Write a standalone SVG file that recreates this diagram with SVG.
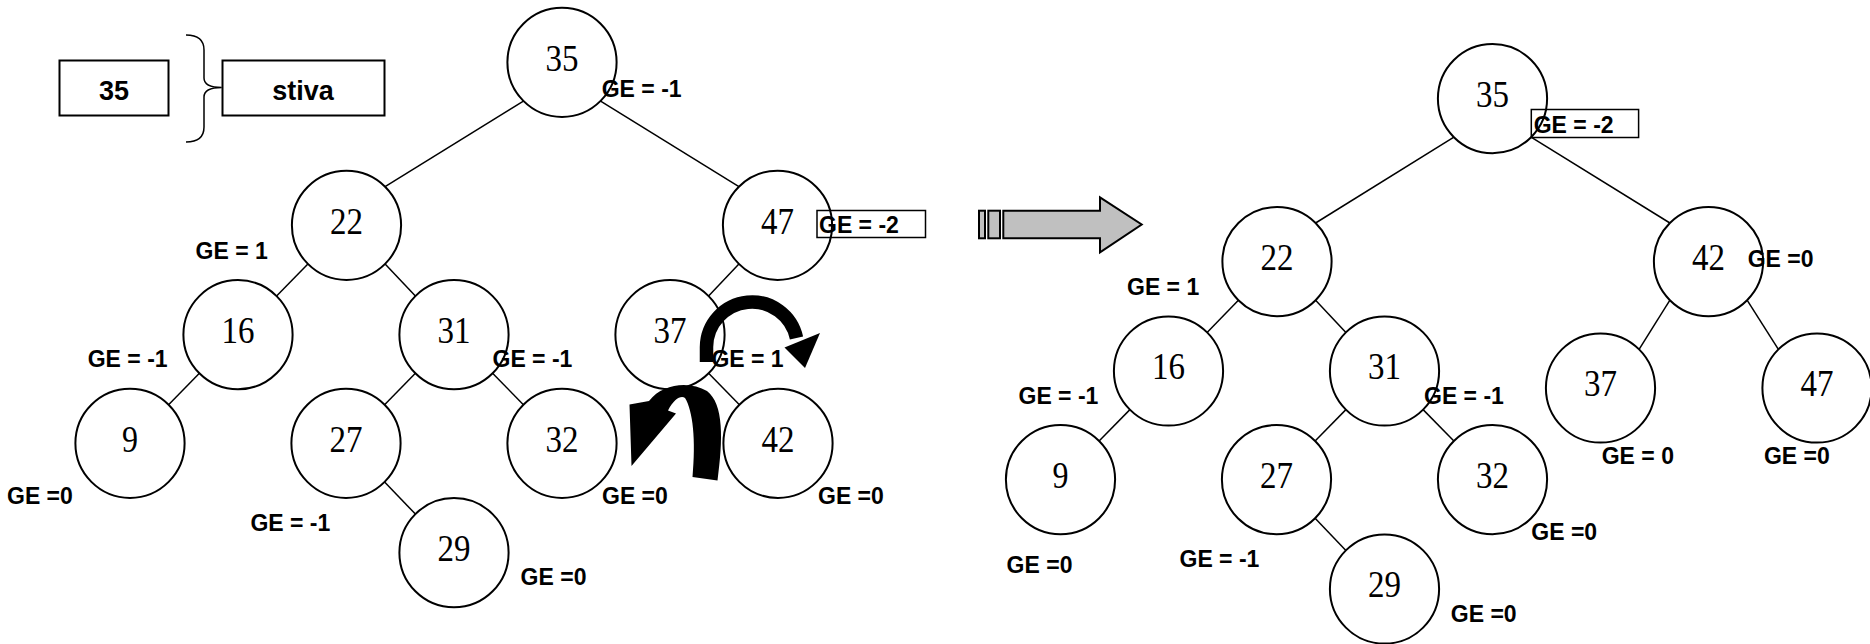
<svg xmlns="http://www.w3.org/2000/svg" width="1870" height="644" viewBox="0 0 1870 644">
<style>
.bg{fill:#ffffff}
.node{fill:#ffffff;stroke:#000;stroke-width:2}
.edge{stroke:#000;stroke-width:1.5;fill:none}
.num{font-family:"Liberation Serif","Times New Roman",serif;font-size:37px;text-anchor:middle;fill:#000}
.ge{font-family:"Liberation Sans",Arial,sans-serif;font-weight:bold;font-size:23px;fill:#000}
.box{fill:none;stroke:#000;stroke-width:1.5}
.sbox{fill:#fff;stroke:#000;stroke-width:2}
.lbl{font-family:"Liberation Sans",Arial,sans-serif;font-weight:bold;font-size:27px;text-anchor:middle;fill:#000}
.big{fill:#c0c0c0;stroke:#000;stroke-width:2}
.rot{fill:#000;stroke:none}
</style>
<rect class="bg" x="0" y="0" width="1870" height="644"/>

<g id="stack">
<rect class="sbox" x="59.5" y="60.5" width="109" height="55"/>
<text class="lbl" x="114" y="100">35</text>
<path d="M186,35 Q204,35 204,50 L204,78 Q204,87.5 221.7,87.5 Q204,87.5 204,97 L204,127 Q204,142 186,142" fill="none" stroke="#000" stroke-width="1.5"/>
<rect class="sbox" x="222.5" y="60.5" width="162" height="55"/>
<text class="lbl" x="303" y="100">stiva</text>
</g>

<g id="connectors">
<line class="edge" x1="523.4" y1="101.2" x2="385.1" y2="186.7"/>
<line class="edge" x1="600.6" y1="101.2" x2="738.9" y2="186.7"/>
<line class="edge" x1="307.9" y1="263.9" x2="276.6" y2="296.1"/>
<line class="edge" x1="385.1" y1="263.9" x2="415.4" y2="296.1"/>
<line class="edge" x1="738.9" y1="263.9" x2="708.6" y2="296.1"/>
<line class="edge" x1="199.4" y1="373.3" x2="168.6" y2="404.7"/>
<line class="edge" x1="415.4" y1="373.3" x2="384.6" y2="404.7"/>
<line class="edge" x1="492.6" y1="373.3" x2="523.4" y2="404.7"/>
<line class="edge" x1="708.6" y1="373.3" x2="739.4" y2="404.7"/>
<line class="edge" x1="384.6" y1="481.9" x2="415.4" y2="514.1"/>

<line class="edge" x1="1453.9" y1="137.2" x2="1315.6" y2="223"/>
<line class="edge" x1="1531.1" y1="137.2" x2="1669.9" y2="223"/>
<line class="edge" x1="1238.4" y1="300.2" x2="1207.1" y2="332.4"/>
<line class="edge" x1="1315.6" y1="300.2" x2="1345.9" y2="332.4"/>
<line class="edge" x1="1669.9" y1="300.2" x2="1639.1" y2="349.4"/>
<line class="edge" x1="1747.1" y1="300.2" x2="1778.4" y2="349.4"/>
<line class="edge" x1="1129.9" y1="409.6" x2="1099.1" y2="441"/>
<line class="edge" x1="1345.9" y1="409.6" x2="1315.1" y2="441"/>
<line class="edge" x1="1423.1" y1="409.6" x2="1453.9" y2="441"/>
<line class="edge" x1="1315.1" y1="518.2" x2="1345.9" y2="550.4"/>
</g>

<g id="L35"><circle class="node" cx="562" cy="62.3" r="54.6"/><text class="num" x="562" y="70.5" textLength="33" lengthAdjust="spacingAndGlyphs">35</text></g>
<g id="L22"><circle class="node" cx="346.5" cy="225.3" r="54.6"/><text class="num" x="346.5" y="233.5" textLength="33" lengthAdjust="spacingAndGlyphs">22</text></g>
<g id="L47"><circle class="node" cx="777.5" cy="225.3" r="54.6"/><text class="num" x="777.5" y="233.5" textLength="33" lengthAdjust="spacingAndGlyphs">47</text></g>
<g id="L16"><circle class="node" cx="238" cy="334.7" r="54.6"/><text class="num" x="238" y="343" textLength="33" lengthAdjust="spacingAndGlyphs">16</text></g>
<g id="L31"><circle class="node" cx="454" cy="334.7" r="54.6"/><text class="num" x="454" y="343" textLength="33" lengthAdjust="spacingAndGlyphs">31</text></g>
<g id="L37"><circle class="node" cx="670" cy="334.7" r="54.6"/><text class="num" x="670" y="343" textLength="33" lengthAdjust="spacingAndGlyphs">37</text></g>
<g id="L9"><circle class="node" cx="130" cy="443.3" r="54.6"/><text class="num" x="130" y="451.5" textLength="16" lengthAdjust="spacingAndGlyphs">9</text></g>
<g id="L27"><circle class="node" cx="346" cy="443.3" r="54.6"/><text class="num" x="346" y="451.5" textLength="33" lengthAdjust="spacingAndGlyphs">27</text></g>
<g id="L32"><circle class="node" cx="562" cy="443.3" r="54.6"/><text class="num" x="562" y="451.5" textLength="33" lengthAdjust="spacingAndGlyphs">32</text></g>
<g id="L42"><circle class="node" cx="778" cy="443.3" r="54.6"/><text class="num" x="778" y="451.5" textLength="33" lengthAdjust="spacingAndGlyphs">42</text></g>
<g id="L29"><circle class="node" cx="454" cy="552.7" r="54.6"/><text class="num" x="454" y="561" textLength="33" lengthAdjust="spacingAndGlyphs">29</text></g>

<g id="R35"><circle class="node" cx="1492.5" cy="98.6" r="54.6"/><text class="num" x="1492.5" y="106.8" textLength="33" lengthAdjust="spacingAndGlyphs">35</text></g>
<g id="R22"><circle class="node" cx="1277" cy="261.6" r="54.6"/><text class="num" x="1277" y="269.8" textLength="33" lengthAdjust="spacingAndGlyphs">22</text></g>
<g id="R42"><circle class="node" cx="1708.5" cy="261.6" r="54.6"/><text class="num" x="1708.5" y="269.8" textLength="33" lengthAdjust="spacingAndGlyphs">42</text></g>
<g id="R16"><circle class="node" cx="1168.5" cy="371" r="54.6"/><text class="num" x="1168.5" y="379.2" textLength="33" lengthAdjust="spacingAndGlyphs">16</text></g>
<g id="R31"><circle class="node" cx="1384.5" cy="371" r="54.6"/><text class="num" x="1384.5" y="379.2" textLength="33" lengthAdjust="spacingAndGlyphs">31</text></g>
<g id="R37"><circle class="node" cx="1600.5" cy="388" r="54.6"/><text class="num" x="1600.5" y="396.2" textLength="33" lengthAdjust="spacingAndGlyphs">37</text></g>
<g id="R47"><circle class="node" cx="1817" cy="388" r="54.6"/><text class="num" x="1817" y="396.2" textLength="33" lengthAdjust="spacingAndGlyphs">47</text></g>
<g id="R9"><circle class="node" cx="1060.5" cy="479.6" r="54.6"/><text class="num" x="1060.5" y="487.8" textLength="16" lengthAdjust="spacingAndGlyphs">9</text></g>
<g id="R27"><circle class="node" cx="1276.5" cy="479.6" r="54.6"/><text class="num" x="1276.5" y="487.8" textLength="33" lengthAdjust="spacingAndGlyphs">27</text></g>
<g id="R32"><circle class="node" cx="1492.5" cy="479.6" r="54.6"/><text class="num" x="1492.5" y="487.8" textLength="33" lengthAdjust="spacingAndGlyphs">32</text></g>
<g id="R29"><circle class="node" cx="1384.5" cy="589" r="54.6"/><text class="num" x="1384.5" y="597.2" textLength="33" lengthAdjust="spacingAndGlyphs">29</text></g>

<g id="rotations">
<path d="M706.5,362 L706.5,347 A45.5,45.5 0 0 1 796.5,338" fill="none" stroke="#000" stroke-width="13.5"/>
<polygon class="rot" points="784.5,347.5 820,333 805,368"/>
<path class="rot" d="M717.5,480.5 C723,440 724,404 707,391 C690,381 663,383 649,401 L629.5,404.5 L631.5,466 L676,413.5 L668,410.5 C674,399 681,395 685,398 C693,411 696,440 692.5,477 Z"/>
</g>

<g id="transition">
<rect class="big" x="979" y="210.7" width="6" height="27.6"/>
<rect class="big" x="988.3" y="210.7" width="11.7" height="27.6"/>
<path class="big" d="M1003.3,210.7 L1100,210.7 L1100,197.3 L1141.7,224.5 L1100,252.3 L1100,238.3 L1003.3,238.3 Z"/>
</g>

<g id="labels-left">
<text class="ge" x="601.7" y="97">GE = -1</text>
<rect class="box" x="817" y="210.5" width="108.5" height="27"/>
<text class="ge" x="819" y="233">GE = -2</text>
<text class="ge" x="195.6" y="259.3">GE = 1</text>
<text class="ge" x="87.7" y="367">GE = -1</text>
<text class="ge" x="492.5" y="367">GE = -1</text>
<text class="ge" x="711.4" y="367">GE = 1</text>
<text class="ge" x="7" y="503.7">GE =0</text>
<text class="ge" x="602" y="503.7">GE =0</text>
<text class="ge" x="818" y="503.7">GE =0</text>
<text class="ge" x="250.4" y="531.3">GE = -1</text>
<text class="ge" x="520.6" y="585.3">GE =0</text>
</g>

<g id="labels-right">
<rect class="box" x="1531.3" y="109.5" width="107.3" height="28"/>
<text class="ge" x="1533.7" y="132.7">GE = -2</text>
<text class="ge" x="1127" y="295">GE = 1</text>
<text class="ge" x="1747.7" y="266.7">GE =0</text>
<text class="ge" x="1018.5" y="403.7">GE = -1</text>
<text class="ge" x="1424" y="403.7">GE = -1</text>
<text class="ge" x="1601.7" y="463.7">GE = 0</text>
<text class="ge" x="1763.9" y="463.7">GE =0</text>
<text class="ge" x="1531.3" y="540.3">GE =0</text>
<text class="ge" x="1006.6" y="572.7">GE =0</text>
<text class="ge" x="1179.5" y="567">GE = -1</text>
<text class="ge" x="1450.8" y="622">GE =0</text>
</g>
</svg>
